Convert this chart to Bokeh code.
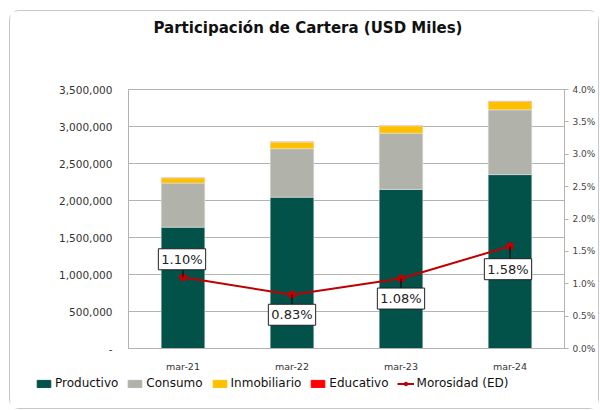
from bokeh.plotting import figure
from bokeh.layouts import column, row
from bokeh.models import (ColumnDataSource, Range1d, LinearAxis, FixedTicker, NumeralTickFormatter,
                          CustomJSTickFormatter, Legend, LegendItem, Label, Title)
from bokeh.embed import file_html
from bokeh.resources import INLINE

periods = ["mar-21", "mar-22", "mar-23", "mar-24"]
productivo = [1640000, 2045000, 2150000, 2350000]
consumo = [595000, 655000, 760000, 875000]
inmobiliario = [71000, 90000, 100000, 115000]
educativo = [5000, 5000, 5000, 5000]
morosidad = [0.0110, 0.0083, 0.0108, 0.0158]
mor_labels = ["1.10%", "0.83%", "1.08%", "1.58%"]
label_dy = [18, -20, -20, -23]
label_dx = [-1, 0, 0, -2]

series = ["Productivo", "Consumo", "Inmobiliario", "Educativo"]
colors = ["#03524a", "#b1b3aa", "#ffc000", "#ff0000"]

src = ColumnDataSource(dict(periods=periods, Productivo=productivo, Consumo=consumo,
                            Inmobiliario=inmobiliario, Educativo=educativo, mor=morosidad))

FONT = "DejaVu Sans"

p = figure(x_range=periods, y_range=Range1d(0, 3500000), width=588, height=363,
           output_backend="svg", toolbar_location=None,
           min_border_left=118, min_border_right=32, min_border_top=78, min_border_bottom=20)
p.extra_y_ranges = {"pct": Range1d(0, 0.04)}

bars = p.vbar_stack(series, x="periods", width=0.4, source=src, color=colors,
                    line_color="#e6e6e6", line_width=0.5)

line = p.line("periods", "mor", source=src, y_range_name="pct", color="#c00000", line_width=2)
pts = p.scatter("periods", "mor", source=src, y_range_name="pct", color="#c00000", size=7)

# leader lines and labels
px_per_unit = 259 / 0.04
for i, (per, v, t) in enumerate(zip(periods, morosidad, mor_labels)):
    dy = label_dy[i]
    edge = dy - 10 if dy > 0 else dy + 10
    p.line([per, per], [v, v + edge / px_per_unit], y_range_name="pct", color="black", line_width=1)
    lab = Label(x=i + 0.5, y=v, y_range_name="pct", text=t, x_offset=label_dx[i], y_offset=dy,
                text_align="center", text_baseline="middle", text_font=FONT, text_font_size="13px",
                text_color="#222222", background_fill_color="white", border_line_color="#222222",
                border_line_width=1, padding=3)
    p.add_layout(lab)

p.xgrid.grid_line_color = None
p.ygrid.grid_line_color = "#b3b3b3"
p.ygrid.ticker = FixedTicker(ticks=list(range(0, 3500001, 500000)))
p.outline_line_color = "#b3b3b3"

yl = p.yaxis[0]
yl.ticker = FixedTicker(ticks=list(range(0, 3500001, 500000)))
yl.formatter = CustomJSTickFormatter(code="return tick == 0 ? '-' : tick.toLocaleString('en-US');")
yl.major_tick_line_color = None
yl.minor_tick_line_color = None
yl.axis_line_color = "#b3b3b3"
yl.major_label_text_font = FONT
yl.major_label_text_font_size = "10.5px"
yl.major_label_text_color = "#333333"
yl.major_label_standoff = 10

yr = LinearAxis(y_range_name="pct", ticker=FixedTicker(ticks=[i * 0.005 for i in range(9)]),
                formatter=NumeralTickFormatter(format="0.0%"))
yr.major_tick_line_color = "#b3b3b3"
yr.major_tick_out = 4
yr.major_tick_in = 0
yr.minor_tick_line_color = None
yr.axis_line_color = "#b3b3b3"
yr.major_label_text_font = FONT
yr.major_label_text_font_size = "9px"
yr.major_label_text_color = "#444444"
yr.major_label_standoff = 4
p.add_layout(yr, "right")

xa = p.xaxis[0]
xa.major_tick_line_color = None
xa.axis_line_color = "#b3b3b3"
xa.major_label_text_font = FONT
xa.major_label_text_font_size = "9.5px"
xa.major_label_text_color = "#333333"
xa.major_label_standoff = 6

# spacer between the frame and the title
p.add_layout(Title(text=" ", text_font_size="1px", standoff=45), "above")
p.title = Title(text="Participación de Cartera (USD Miles)", align="left", offset=25, standoff=10,
                text_font=FONT, text_font_size="15px", text_font_style="bold", text_color="#111111")

p.background_fill_color = "white"
p.border_fill_color = "white"

# legend strip
lf = figure(width=588, height=34, output_backend="svg", toolbar_location=None,
            x_range=Range1d(0, 1), y_range=Range1d(0, 1),
            x_axis_location=None, y_axis_location=None,
            min_border_left=0, min_border_right=0, min_border_top=0, min_border_bottom=0)
lf.grid.grid_line_color = None
lf.outline_line_color = None
off = ColumnDataSource(dict(x=[-10], y=[-10]))
lrs = [lf.quad(left=-10, right=-9, top=-10, bottom=-11, color=c) for c in colors]
ll = lf.line("x", "y", source=off, color="#c00000", line_width=2)
lp = lf.scatter("x", "y", source=off, color="#c00000", size=7)
items = [LegendItem(label=s, renderers=[r]) for s, r in zip(series, lrs)]
items.append(LegendItem(label="Morosidad (ED)", renderers=[ll, lp]))
legend = Legend(items=items, orientation="horizontal", location=(25, 18),
                label_text_font=FONT, label_text_font_size="12px", label_text_color="#111111",
                glyph_width=17, glyph_height=9, spacing=8, label_standoff=3,
                border_line_color=None, background_fill_alpha=0, padding=0, margin=0)
lf.add_layout(legend, "center")

layout = column(p, row(lf), margin=(10, 0, 0, 9),
                styles={"border": "1px solid #c8c8c8", "border-radius": "10px"})

open("out.html", "w").write(file_html(layout, INLINE))
